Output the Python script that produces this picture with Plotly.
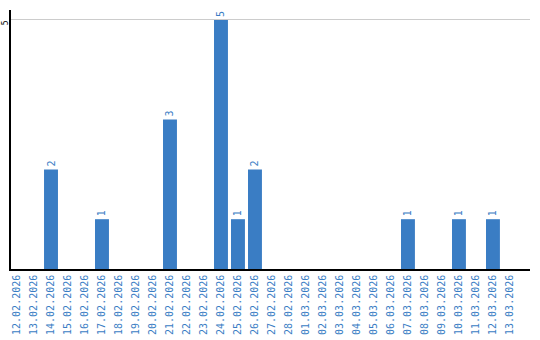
import plotly.graph_objects as go

dates = ["12.02.2026","13.02.2026","14.02.2026","15.02.2026","16.02.2026","17.02.2026",
         "18.02.2026","19.02.2026","20.02.2026","21.02.2026","22.02.2026","23.02.2026",
         "24.02.2026","25.02.2026","26.02.2026","27.02.2026","28.02.2026","01.03.2026",
         "02.03.2026","03.03.2026","04.03.2026","05.03.2026","06.03.2026","07.03.2026",
         "08.03.2026","09.03.2026","10.03.2026","11.03.2026","12.03.2026","13.03.2026"]
counts = [0,0,2,0,0,1,0,0,0,3,0,0,5,1,2,0,0,0,0,0,0,0,0,1,0,0,1,0,1,0]
y_ticks = [5]

labels = [str(c) if c > 0 else "" for c in counts]
xs = list(range(len(dates)))

fig = go.Figure(go.Bar(
    x=xs, y=counts, width=0.82, marker_color="#3a7dc4", marker_line_width=0,
    text=labels, textposition="outside", textangle=-90, cliponaxis=False,
    textfont=dict(family="DejaVu Sans Mono", size=10, color="#3a7dc4"),
))
fig.update_layout(
    width=540, height=340, margin=dict(l=11, r=10, t=10, b=71),
    paper_bgcolor="white", plot_bgcolor="white", showlegend=False,
    xaxis=dict(range=[-0.353, 30.18], tickmode="array", tickvals=xs, ticktext=dates,
               tickangle=-90, tickfont=dict(family="DejaVu Sans Mono", size=10, color="#3a7dc4"),
               showgrid=False, showline=True, linecolor="black", linewidth=1.5, ticks="",
               automargin=False, zeroline=False),
    yaxis=dict(range=[0, 5.2], tickmode="array", tickvals=y_ticks, ticktext=[str(v) for v in y_ticks],
               tickangle=-90, tickfont=dict(family="DejaVu Sans Mono", size=8, color="black"),
               showgrid=True, gridcolor="#cccccc", gridwidth=1, showline=True, linecolor="black",
               linewidth=1.5, ticks="", automargin=False, zeroline=False,
               ticklabelstandoff=-2, ticklabelshift=4),
    uniformtext=dict(minsize=8, mode="show"),
)
fig.write_html("out.html")
